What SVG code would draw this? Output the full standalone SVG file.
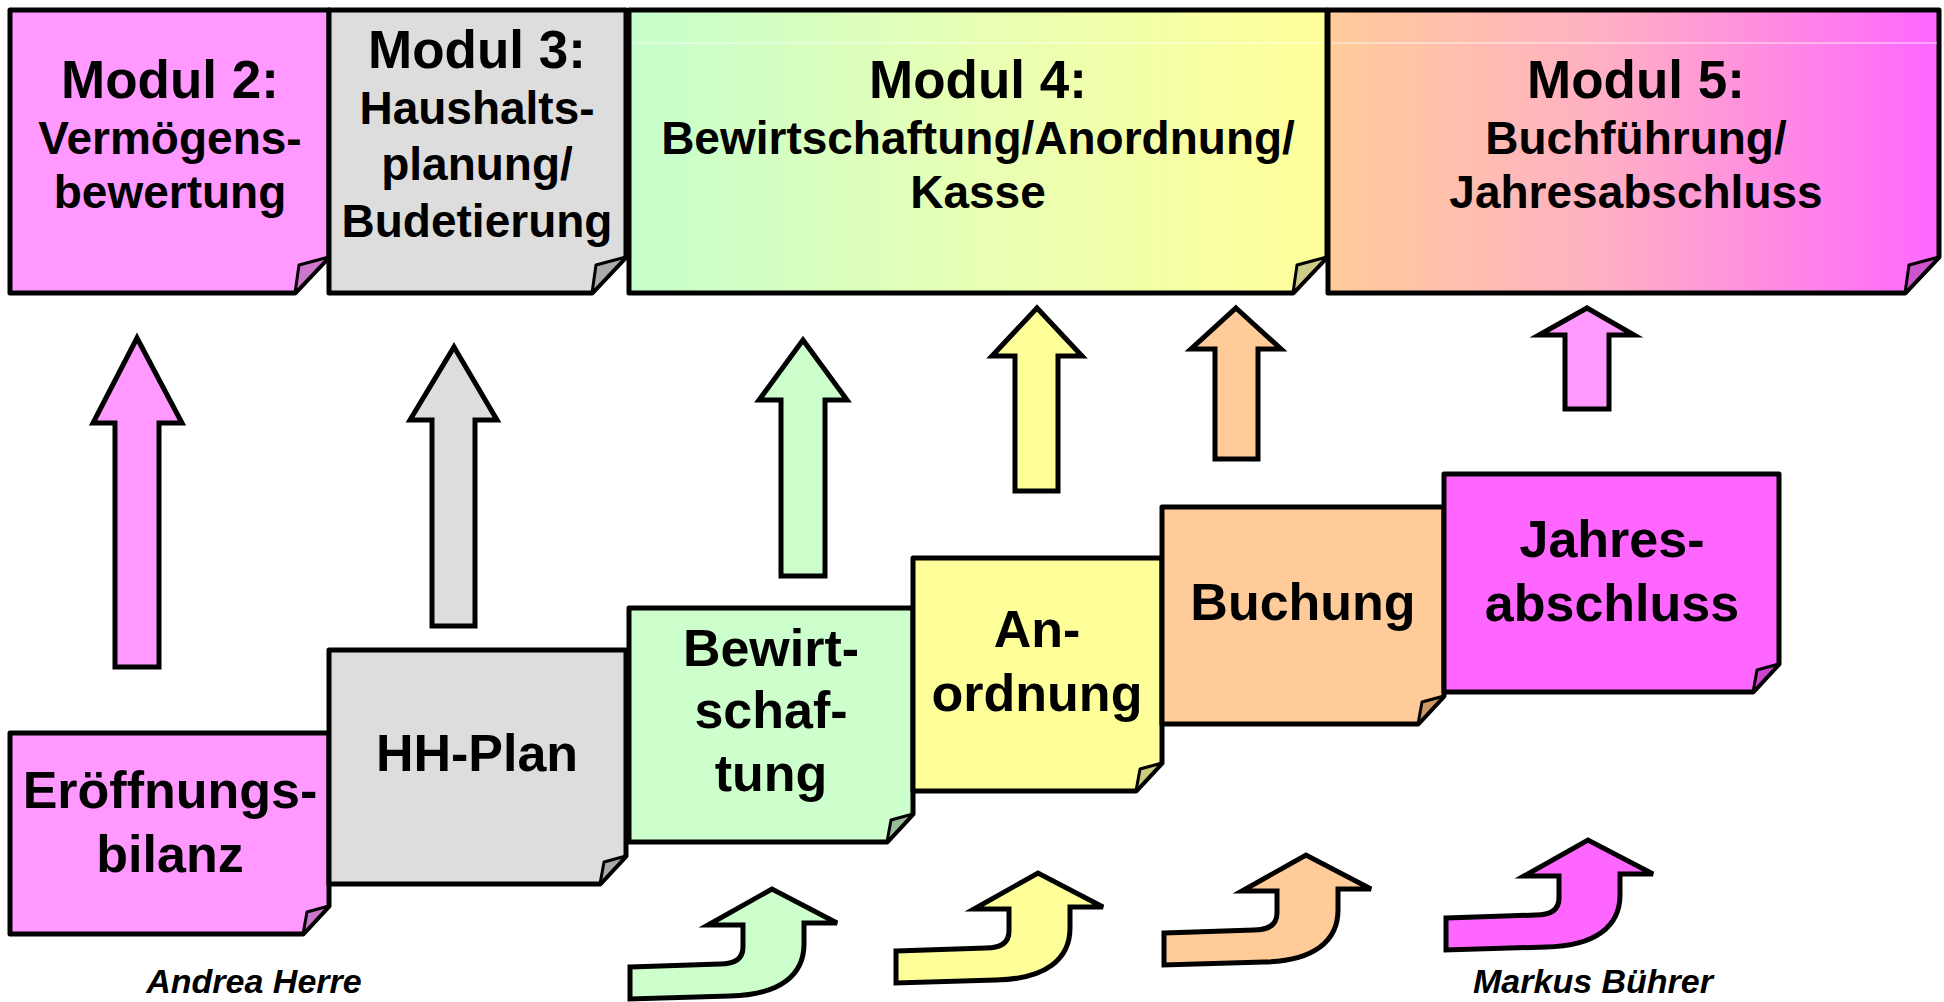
<svg xmlns="http://www.w3.org/2000/svg" width="1944" height="1002" viewBox="0 0 1944 1002">
<defs>
<linearGradient id="g4" x1="0" y1="0" x2="1" y2="0">
<stop offset="0" stop-color="#C6FFCC"/><stop offset="0.5" stop-color="#E8FFB4"/><stop offset="1" stop-color="#FFFF99"/>
</linearGradient>
<linearGradient id="g5" x1="0" y1="0" x2="1" y2="0">
<stop offset="0" stop-color="#FFCC99"/><stop offset="0.45" stop-color="#FFB0C4"/><stop offset="1" stop-color="#FF66FF"/>
</linearGradient>
<path id="curve" d="M -142,78 L -52,75 Q -29,75 -29,58 L -29,36 L -64,36 L 0,0 L 65,34 L 32,34 L 32,55 C 32,86 8,106 -42,107 L -142,110 Z"/>
</defs>
<style>
.box{stroke:#000;stroke-width:5;stroke-linejoin:round}
.fold{stroke:#000;stroke-width:3;stroke-linejoin:round}
.arr{stroke:#000;stroke-width:5;stroke-linejoin:miter}
text{font-family:"Liberation Sans",Arial,sans-serif;font-weight:bold;fill:#000;text-anchor:middle}
.t{font-size:53px}
.b{font-size:46px}
.l{font-size:52px}
.sig{font-size:34px;font-style:italic}
</style>

<g id="modul2">
<path class="box" fill="#FF99FF" d="M10,10 H329 V257 L295,293 H10 Z"/>
<polygon class="fold" fill="#CC77CC" points="329,257 299,265 295,293"/>
<text class="t" x="170" y="98">Modul 2:</text>
<text class="b" x="170" y="154">Vermögens-</text>
<text class="b" x="170" y="208">bewertung</text>
</g>
<g id="modul3">
<path class="box" fill="#DDDDDD" d="M329,10 H626 V257 L592,293 H329 Z"/>
<polygon class="fold" fill="#AAAAAA" points="626,257 596,265 592,293"/>
<text class="t" x="477" y="68">Modul 3:</text>
<text class="b" x="477" y="124">Haushalts-</text>
<text class="b" x="477" y="180">planung/</text>
<text class="b" x="477" y="237">Budetierung</text>
</g>
<g id="modul4">
<path class="box" fill="url(#g4)" d="M629,10 H1327 V257 L1293,293 H629 Z"/>
<line x1="633" y1="43" x2="1323" y2="43" stroke="#fff" stroke-width="1" opacity="0.8"/>
<polygon class="fold" fill="#CCCC88" points="1327,257 1297,265 1293,293"/>
<text class="t" x="978" y="98">Modul 4:</text>
<text class="b" x="978" y="154">Bewirtschaftung/Anordnung/</text>
<text class="b" x="978" y="208">Kasse</text>
</g>
<g id="modul5">
<path class="box" fill="url(#g5)" d="M1328,10 H1939 V257 L1905,293 H1328 Z"/>
<line x1="1332" y1="43" x2="1937" y2="43" stroke="#fff" stroke-width="1" opacity="0.8"/>
<polygon class="fold" fill="#CC55CC" points="1939,257 1909,265 1905,293"/>
<text class="t" x="1636" y="98">Modul 5:</text>
<text class="b" x="1636" y="154">Buchführung/</text>
<text class="b" x="1636" y="208">Jahresabschluss</text>
</g>

<g id="eroeffnungsbilanz">
<path class="box" fill="#FF99FF" d="M10,733 H329 V906 L303,934 H10 Z"/>
<polygon class="fold" fill="#CC77CC" points="329,906 307,912 303,934"/>
<text class="l" x="170" y="808">Eröffnungs-</text>
<text class="l" x="170" y="872">bilanz</text>
</g>
<g id="hhplan">
<path class="box" fill="#DDDDDD" d="M329,650 H626 V856 L600,884 H329 Z"/>
<polygon class="fold" fill="#AAAAAA" points="626,856 604,862 600,884"/>
<text class="l" x="477" y="771">HH-Plan</text>
</g>
<g id="bewirtschaftung">
<path class="box" fill="#CCFFCC" d="M629,608 H913 V814 L887,842 H629 Z"/>
<polygon class="fold" fill="#99BB99" points="913,814 891,820 887,842"/>
<text class="l" x="771" y="666">Bewirt-</text>
<text class="l" x="771" y="728">schaf-</text>
<text class="l" x="771" y="791">tung</text>
</g>
<g id="anordnung">
<path class="box" fill="#FFFF99" d="M913,558 H1162 V763 L1136,791 H913 Z"/>
<polygon class="fold" fill="#CCCC77" points="1162,763 1140,769 1136,791"/>
<text class="l" x="1037" y="647">An-</text>
<text class="l" x="1037" y="711">ordnung</text>
</g>
<g id="buchung">
<path class="box" fill="#FFCC99" d="M1162,507 H1444 V696 L1418,724 H1162 Z"/>
<polygon class="fold" fill="#CC9966" points="1444,696 1422,702 1418,724"/>
<text class="l" x="1303" y="620">Buchung</text>
</g>
<g id="jahresabschluss">
<path class="box" fill="#FF66FF" d="M1444,474 H1779 V664 L1753,692 H1444 Z"/>
<polygon class="fold" fill="#CC44CC" points="1779,664 1757,670 1753,692"/>
<text class="l" x="1612" y="557">Jahres-</text>
<text class="l" x="1612" y="621">abschluss</text>
</g>

<g id="connectors">
<polygon class="arr" fill="#FF99FF" points="137,338 182,423 159,423 159,667 115,667 115,423 93,423"/>
<polygon class="arr" fill="#DDDDDD" points="454,347 497,420 475,420 475,626 432,626 432,420 410,420"/>
<polygon class="arr" fill="#CCFFCC" points="803,340 847,400 825,400 825,576 781,576 781,400 759,400"/>
<polygon class="arr" fill="#FFFF99" points="1037,308 1082,356 1058,356 1058,491 1015,491 1015,356 992,356"/>
<polygon class="arr" fill="#FFCC99" points="1236,308 1281,349 1258,349 1258,459 1215,459 1215,349 1191,349"/>
<polygon class="arr" fill="#FF99FF" points="1587,308 1634,335 1609,335 1609,409 1565,409 1565,335 1539,335"/>
<use href="#curve" class="arr" fill="#CCFFCC" transform="translate(772,889)"/>
<use href="#curve" class="arr" fill="#FFFF99" transform="translate(1038,873)"/>
<use href="#curve" class="arr" fill="#FFCC99" transform="translate(1306,855)"/>
<use href="#curve" class="arr" fill="#FF66FF" transform="translate(1588,840)"/>
</g>

<text class="sig" x="254" y="993">Andrea Herre</text>
<text class="sig" x="1593" y="993">Markus Bührer</text>
</svg>
